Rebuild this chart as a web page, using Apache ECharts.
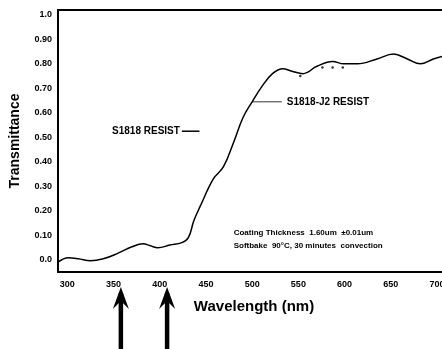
<!DOCTYPE html>
<html>
<head>
<meta charset="utf-8">
<script src="https://cdn.jsdelivr.net/npm/echarts@6/dist/echarts.min.js"></script>
<style>
  html, body { margin: 0; padding: 0; background: #fff; }
  #main { width: 442px; height: 349px; }
</style>
</head>
<body>
<div id="main"></div>
<script>
// wavelength (nm) and transmittance
var wavelengths = [290, 301, 312, 325, 339, 354, 370, 382, 390, 398, 411, 424, 431, 437, 444, 458, 469, 480, 490, 500, 511, 522, 533, 543, 555, 570, 587, 599, 614, 635, 653, 668, 682, 696, 710];
var transmit = [-0.01, 0.008, 0.004, -0.004, 0.004, 0.025, 0.053, 0.065, 0.057, 0.049, 0.06, 0.07, 0.09, 0.16, 0.22, 0.33, 0.38, 0.48, 0.58, 0.645, 0.71, 0.76, 0.78, 0.77, 0.76, 0.79, 0.81, 0.80, 0.80, 0.82, 0.84, 0.82, 0.80, 0.82, 0.835];
// dotted S1818 segment
var dotWl = [552, 576, 587, 598];
var dotT = [0.75, 0.785, 0.785, 0.785];
var xTicks = [300, 350, 400, 450, 500, 550, 600, 650, 700];
var yTicks = [0, 0.1, 0.2, 0.3, 0.4, 0.5, 0.6, 0.7, 0.8, 0.9, 1.0];
var yTickText = ["0.0", "0.10", "0.20", "0.30", "0.40", "0.50", "0.60", "0.70", "0.80", "0.90", "1.0"];
var arrowAt = [358, 408];

var chart = echarts.init(document.getElementById("main"));
var font = "Liberation Sans";

var option = {
  animation: false,
  grid: {
    left: 58,
    right: -8,
    top: 10,
    bottom: 77,
    outerBoundsMode: "none",
    containLabel: false,
    show: true,
    borderColor: "#000",
    borderWidth: 2
  },
  xAxis: {
    type: "value",
    min: 290,
    max: 714,
    name: "Wavelength (nm)",
    nameLocation: "middle",
    nameGap: 27,
    nameTextStyle: { color: "#000", fontFamily: font, fontWeight: "bold", fontSize: 15 },
    axisLine: { show: false },
    axisTick: { show: false },
    splitLine: { show: false },
    axisLabel: {
      customValues: xTicks,
      color: "#000",
      fontFamily: font,
      fontWeight: "bold",
      fontSize: 9,
      margin: 8
    }
  },
  yAxis: {
    type: "value",
    min: -0.05,
    max: 1.02,
    name: "Transmittance",
    nameLocation: "middle",
    nameGap: 36,
    nameTextStyle: { color: "#000", fontFamily: font, fontWeight: "bold", fontSize: 14 },
    axisLine: { show: false },
    axisTick: { show: false },
    splitLine: { show: false },
    axisLabel: {
      customValues: yTicks,
      color: "#000",
      fontFamily: font,
      fontWeight: "bold",
      fontSize: 9,
      margin: 6,
      formatter: function (v) {
        var i = yTicks.indexOf(Math.round(v * 10) / 10);
        return i >= 0 ? yTickText[i] : "";
      }
    }
  },
  series: [
    {
      type: "line",
      data: wavelengths.map(function (w, i) { return [w, transmit[i]]; }),
      smooth: 0.4,
      showSymbol: false,
      lineStyle: { color: "#000", width: 1.5 }
    },
    {
      type: "scatter",
      data: dotWl.map(function (w, i) { return [w, dotT[i]]; }),
      symbolSize: 2.5,
      itemStyle: { color: "#000" }
    }
  ]
};

chart.setOption(option);

// labels, leader lines and arrows placed through the axis scales
function px(x, y) { return chart.convertToPixel({ gridIndex: 0 }, [x, y]); }
var textStyle = { fill: "#000", fontFamily: font, fontWeight: "bold", fontSize: 10 };
var g = [];

var a = px(500, 0.645), b = px(532, 0.645);
g.push({ type: "line", shape: { x1: a[0], y1: a[1], x2: b[0], y2: b[1] }, style: { stroke: "#000", lineWidth: 0.8 } });
g.push({ type: "text", x: b[0] + 5, y: b[1], style: Object.assign({ text: "S1818-J2 RESIST", verticalAlign: "middle" }, textStyle) });

var c = px(424, 0.525), d = px(443, 0.525);
g.push({ type: "text", x: c[0] - 2, y: c[1], style: Object.assign({ text: "S1818 RESIST", align: "right", verticalAlign: "middle" }, textStyle) });
g.push({ type: "line", shape: { x1: c[0], y1: c[1], x2: d[0], y2: d[1] }, style: { stroke: "#000", lineWidth: 1.5 } });

var n = px(480, 0.135);
g.push({ type: "text", x: n[0], y: n[1], style: Object.assign({ text: "Coating Thickness  1.60um  \u00b10.01um\nSoftbake  90\u00b0C, 30 minutes  convection", lineHeight: 13 }, Object.assign({}, textStyle, { fontSize: 8 })) });

arrowAt.forEach(function (w) {
  var p = px(w, 0);
  var top = 287, bot = 352;
  g.push({ type: "line", shape: { x1: p[0], y1: top + 6, x2: p[0], y2: bot }, style: { stroke: "#000", lineWidth: 4.5 } });
  g.push({ type: "polygon", shape: { points: [[p[0], top], [p[0] - 8, top + 22], [p[0], top + 14], [p[0] + 8, top + 22]] }, style: { fill: "#000" } });
});

chart.setOption({ graphic: g });
</script>
</body>
</html>
